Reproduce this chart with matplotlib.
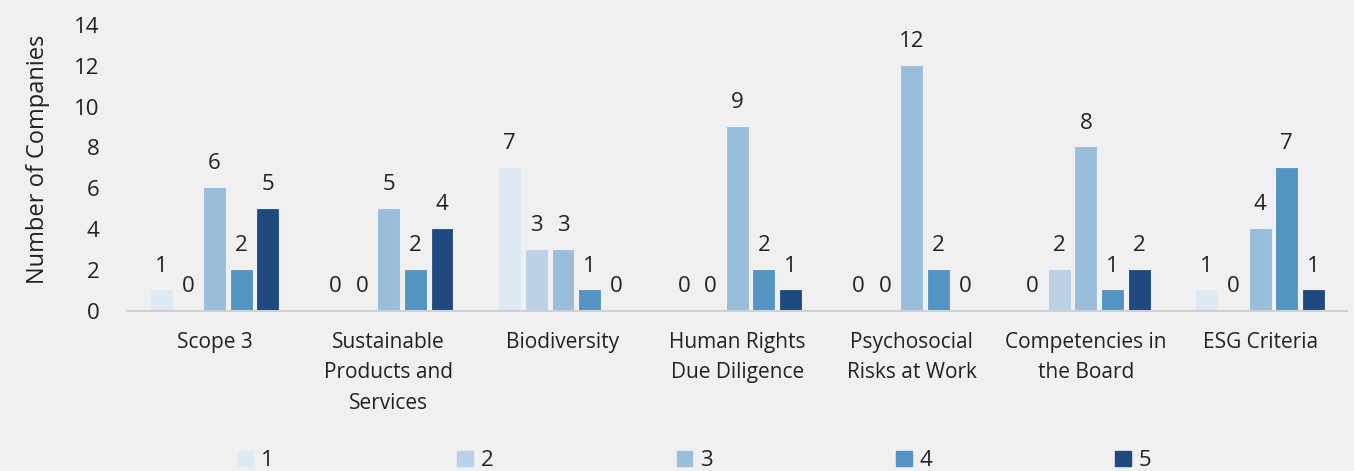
import matplotlib
matplotlib.use("Agg")
import matplotlib.pyplot as plt
import numpy as np
from matplotlib.patches import Patch

categories = ["Scope 3", "Sustainable\nProducts and\nServices", "Biodiversity",
              "Human Rights\nDue Diligence", "Psychosocial\nRisks at Work",
              "Competencies in\nthe Board", "ESG Criteria"]
series_names = ["1", "2", "3", "4", "5"]
s1 = [1, 0, 7, 0, 0, 0, 1]
s2 = [0, 0, 3, 0, 0, 2, 0]
s3 = [6, 5, 3, 9, 12, 8, 4]
s4 = [2, 2, 1, 2, 2, 1, 7]
s5 = [5, 4, 0, 1, 0, 2, 1]
series = [s1, s2, s3, s4, s5]
colors = ["#dde9f3", "#bbd2e6", "#98bedb", "#5494c2", "#1f4a7d"]

plt.rcParams['font.family'] = ['Open Sans', 'DejaVu Sans']
txt = "#222222"
bg = "#f0f0f0"

fig = plt.figure(figsize=(13.54, 4.71), dpi=100, facecolor=bg)
ax = fig.add_axes([0.094, 0.34, 0.901, 0.607], facecolor=bg)

x = np.arange(len(categories))
step = 0.153
width = 0.12
for i, (vals, c) in enumerate(zip(series, colors)):
    pos = x + (i - 2) * step
    ax.bar(pos, vals, width=width, color=c, edgecolor=c, linewidth=0.6)
    for xp, v in zip(pos, vals):
        ax.annotate(str(v), (xp, v), xytext=(0, 10), textcoords="offset points",
                    ha="center", va="bottom", fontsize=16, color=txt)

ax.set_xlim(-0.5, len(categories) - 0.5)
ax.set_ylim(0, 14)
ax.set_yticks(range(0, 15, 2))
ax.set_xticks(x)
ax.set_xticklabels(categories, fontsize=15, color=txt, linespacing=1.6)
ax.tick_params(axis='y', labelsize=16, colors=txt, length=0, pad=20)
ax.tick_params(axis='x', length=0, pad=15)
for sp in ["top", "right", "left"]:
    ax.spines[sp].set_visible(False)
ax.spines["bottom"].set_color("#d0d0d0")
ax.spines["bottom"].set_linewidth(1.5)
ax.set_ylabel("Number of Companies", fontsize=17, color=txt, labelpad=16)
ax.yaxis.set_label_coords(-0.063, 0.53)

handles = [Patch(facecolor=c, edgecolor=c) for c in colors]
fig.legend(handles, series_names, loc="center", bbox_to_anchor=(0.513, 0.022),
           ncol=5, frameon=False, fontsize=16, handlelength=0.7, handleheight=0.7,
           handletextpad=0.35, columnspacing=8.25, labelcolor=txt)

fig.savefig("out.png", dpi=100, facecolor=bg)
